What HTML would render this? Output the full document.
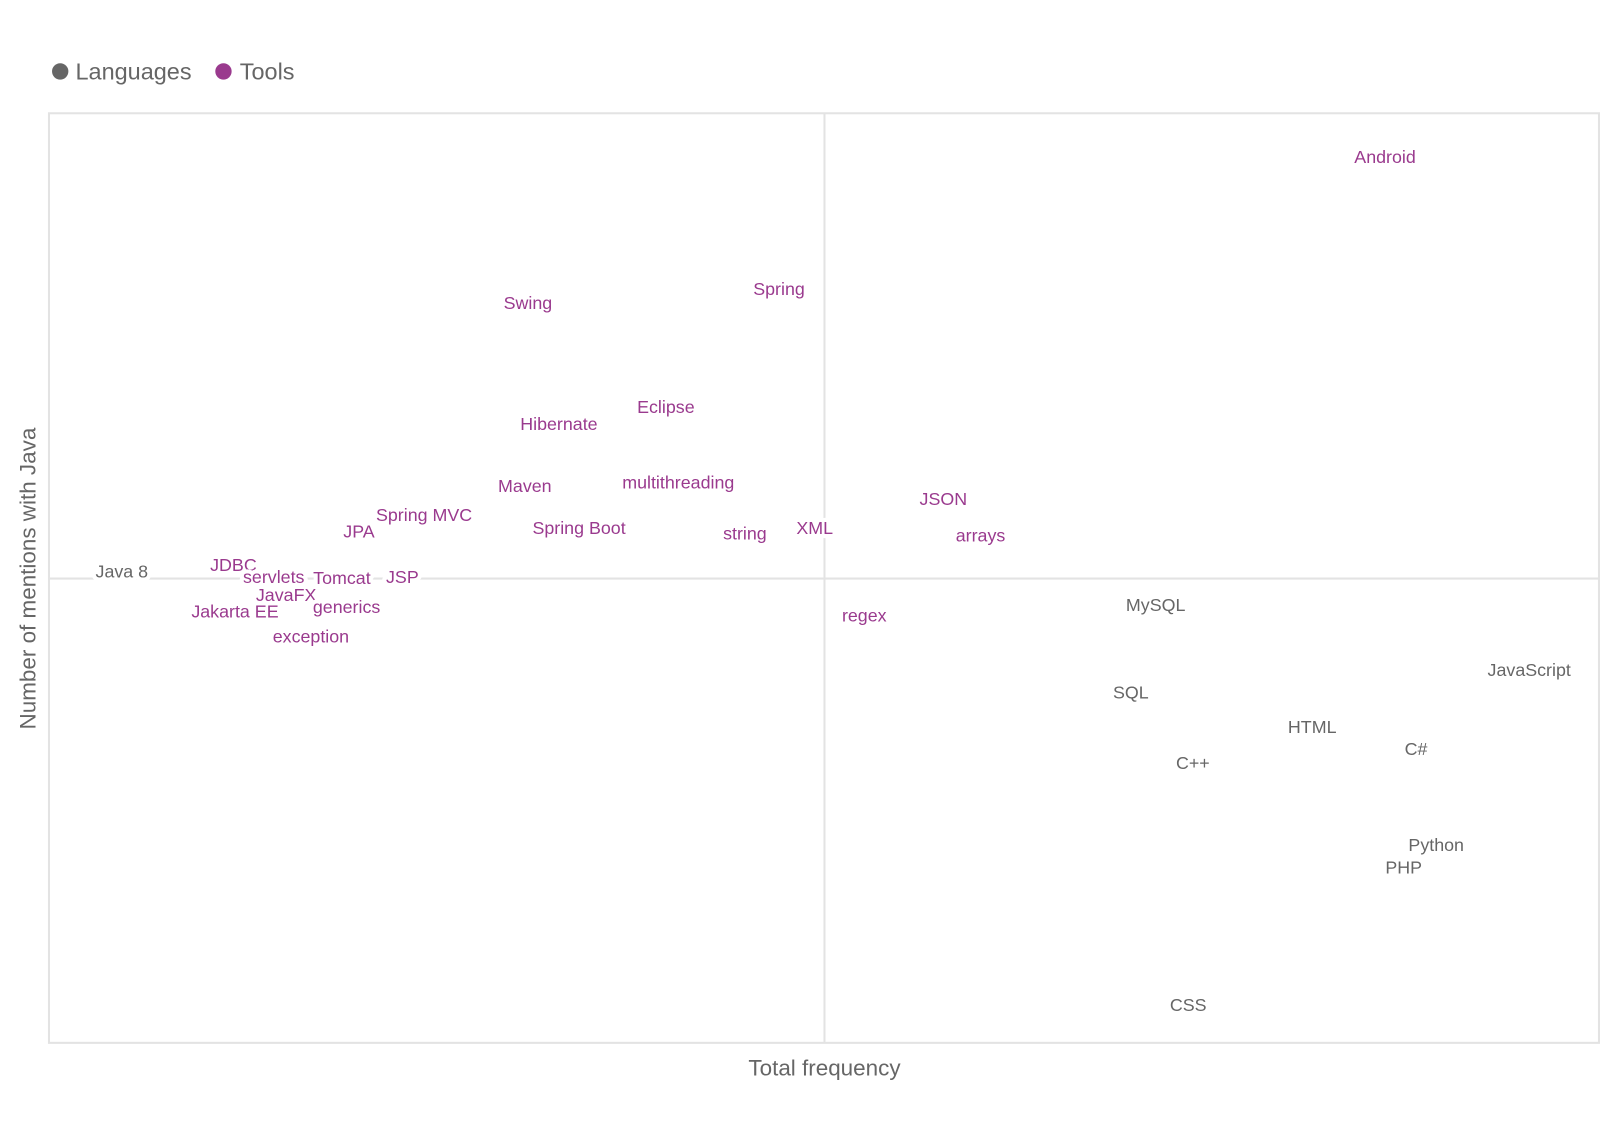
<!DOCTYPE html>
<html><head><meta charset="utf-8"><style>
body{margin:0;background:#fff;font-family:"Liberation Sans",sans-serif}
svg text{font-family:"Liberation Sans",sans-serif}
</style></head><body>
<svg id="chart" width="1600" height="1140" viewBox="0 0 1600 1140">
<g transform="scale(1.0204)">
<g>
<g><circle cx="59" cy="70" r="8" fill="#666"/><text x="74" y="78" font-size="23" fill="#666">Languages</text></g>
<g><circle cx="219" cy="70" r="8" fill="#9a3a8e"/><text x="235" y="78" font-size="23" fill="#666">Tools</text></g>
</g>
<rect x="48" y="111" width="1519" height="911" fill="none" stroke="#e3e3e3" stroke-width="2"/>
<line x1="808" y1="111" x2="808" y2="1022" stroke="#e3e3e3" stroke-width="2"/>
<line x1="48" y1="567" x2="1567" y2="567" stroke="#e3e3e3" stroke-width="2"/>
<g id="labels"></g>
<text x="808" y="1054" font-size="22" fill="#666" text-anchor="middle">Total frequency</text>
<text transform="translate(35,567) rotate(-90)" font-size="22" fill="#666" text-anchor="middle">Number of mentions with Java</text>
</g>
</svg>
<script>
const names=["Android","Spring","Swing","Eclipse","Hibernate","multithreading","Maven","JSON","Spring MVC","Spring Boot","XML","JPA","string","arrays","JDBC","Java 8","servlets","JSP","Tomcat","JavaFX","generics","Jakarta EE","regex","exception","MySQL","JavaScript","SQL","HTML","C#","C++","Python","PHP","CSS"];
const freq=[86.2,47.1,30.9,39.8,32.9,40.6,30.7,57.7,24.2,34.2,49.4,20.0,44.9,60.1,11.9,4.7,14.5,22.8,18.9,15.3,19.2,12.0,52.6,16.9,71.4,95.5,69.8,81.5,88.2,73.8,89.5,87.4,73.5];
const mentions=[95.3,81.1,79.6,68.4,66.6,60.3,59.9,58.5,56.8,55.4,55.4,55.0,54.8,54.6,51.4,50.7,50.1,50.1,50.0,48.2,46.9,46.4,46.0,43.7,47.1,40.1,37.7,34.0,31.6,30.1,21.3,18.9,4.1];
const groups=["T","T","T","T","T","T","T","T","T","T","T","T","T","T","T","L","T","T","T","T","T","T","T","T","L","L","L","L","L","L","L","L","L"];
const xScale=v=>48+v*15.19;
const yScale=v=>1022-v*9.11;
const g=document.getElementById('labels');
names.forEach((n,i)=>{
  const t=document.createElementNS('http://www.w3.org/2000/svg','text');
  
  
  t.setAttribute('x',xScale(freq[i]));
  t.setAttribute('y',yScale(mentions[i])+6);
  t.setAttribute('text-anchor','middle');
  t.setAttribute('font-size','17.5');
  t.setAttribute('fill',groups[i]==='L'?'#666':'#9a3a8e');
  t.setAttribute('stroke','#fff');
  t.setAttribute('stroke-width','8');
  t.setAttribute('paint-order','stroke');
  t.setAttribute('stroke-linejoin','round');
  t.textContent=n;
  g.appendChild(t);
});
</script>
</body></html>
